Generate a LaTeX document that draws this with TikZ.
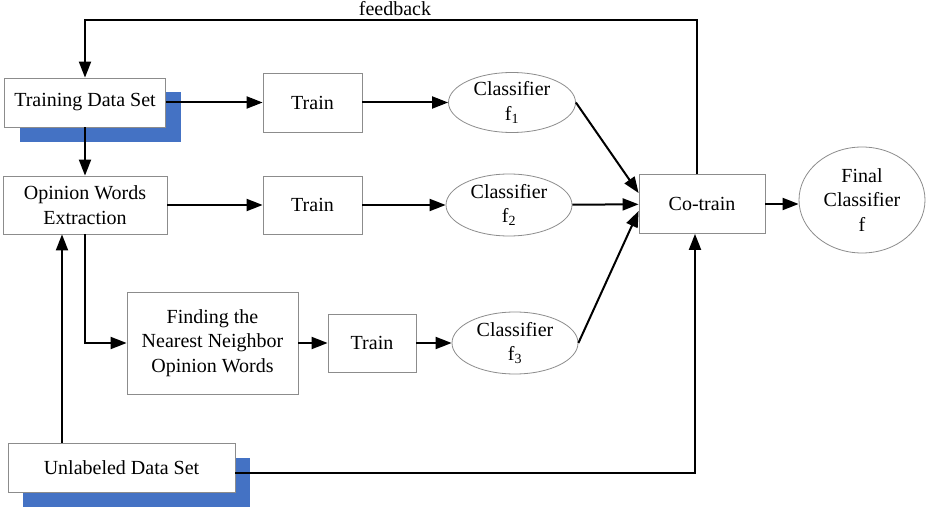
\documentclass[tikz,border=0pt]{standalone}
\usepackage{fontspec}
\setmainfont{Liberation Serif}
\usetikzlibrary{arrows.meta,shapes.geometric,calc}
\definecolor{shadowblue}{RGB}{68,114,196}
\definecolor{edgegray}{RGB}{140,140,140}
\begin{document}
\begin{tikzpicture}[x=1pt,y=-1pt,
  font=\fontsize{20}{24.5}\selectfont,
  box/.style={draw=edgegray, line width=0.8pt, fill=white, align=center, inner sep=0pt},
  oval/.style={ellipse, draw=edgegray, line width=0.8pt, fill=white, align=center, inner sep=0pt},
  shade/.style={fill=shadowblue, draw=none, inner sep=0pt},
  flow/.style={line width=2pt, -{Triangle[length=16pt,width=12pt]}}
]
\useasboundingbox (0,0) rectangle (928,510);

% blue drop shadows behind the two data sets
\node[shade, minimum width=161pt, minimum height=50pt] (tdsshade) at (100.5,117) {};
\node[shade, minimum width=227pt, minimum height=49pt] (unlshade) at (136.5,482.5) {};

% boxes
\node[box, minimum width=161pt, minimum height=49pt] (tds) at (85,102.5) {Training Data Set};
\node[box, minimum width=164pt, minimum height=58pt] (owe) at (85,205) {Opinion Words\\Extraction};
\node[box, minimum width=99pt, minimum height=59pt] (train1) at (312.5,102.5) {Train};
\node[box, minimum width=99pt, minimum height=58pt] (train2) at (312.5,205) {Train};
\node[box, minimum width=171pt, minimum height=102pt] (find) at (212.5,343) {Finding the\\Nearest Neighbor\\Opinion Words};
\node[box, minimum width=88pt, minimum height=58pt] (train3) at (372,343) {Train};
\node[box, minimum width=126pt, minimum height=59pt] (cotrain) at (702,204) {Co-train};
\node[box, minimum width=227pt, minimum height=49pt] (unl) at (121.5,467.5) {Unlabeled Data Set};

% classifiers
\node[oval, minimum width=127pt, minimum height=60pt] (c1) at (512,102.5) {Classifier\\f\textsubscript{1}};
\node[oval, minimum width=126pt, minimum height=62pt] (c2) at (509,205) {Classifier\\f\textsubscript{2}};
\node[oval, minimum width=126pt, minimum height=62pt] (c3) at (515,343) {Classifier\\f\textsubscript{3}};
\node[oval, minimum width=126pt, minimum height=106pt] (final) at (862,200) {Final\\Classifier\\f};

% connectors
\draw[flow] (tds) -- (train1);
\draw[flow] (train1) -- (c1);
\draw[flow] (owe) -- (train2);
\draw[flow] (train2) -- (c2);
\draw[flow] (tds) -- (owe);
\draw[flow] (owe.south) |- (find.west);
\draw[flow] (find) -- (train3);
\draw[flow] (train3) -- (c3);
\draw[flow] ([xshift=-59.5pt]unl.north) -- ([xshift=-23pt]owe.south);
\draw[flow] ([yshift=-5pt]unl.east) -| ([xshift=-7pt]cotrain.south);
\draw[flow] (c1.east) -- ([yshift=11pt]cotrain.west);
\draw[flow] (c2) -- (cotrain);
\draw[flow] (c3.east) -- ([yshift=-7pt]cotrain.west);
\draw[flow] (cotrain.east) -- (cotrain.east -| final.west);

% feedback loop
\coordinate (fbtop) at (0,20);
\draw[flow] ([xshift=-5pt]cotrain.north) |- (fbtop -| tds.north) -- (tds.north);
\node[anchor=base] (fblabel) at (395,16) {feedback};
\end{tikzpicture}
\end{document}
